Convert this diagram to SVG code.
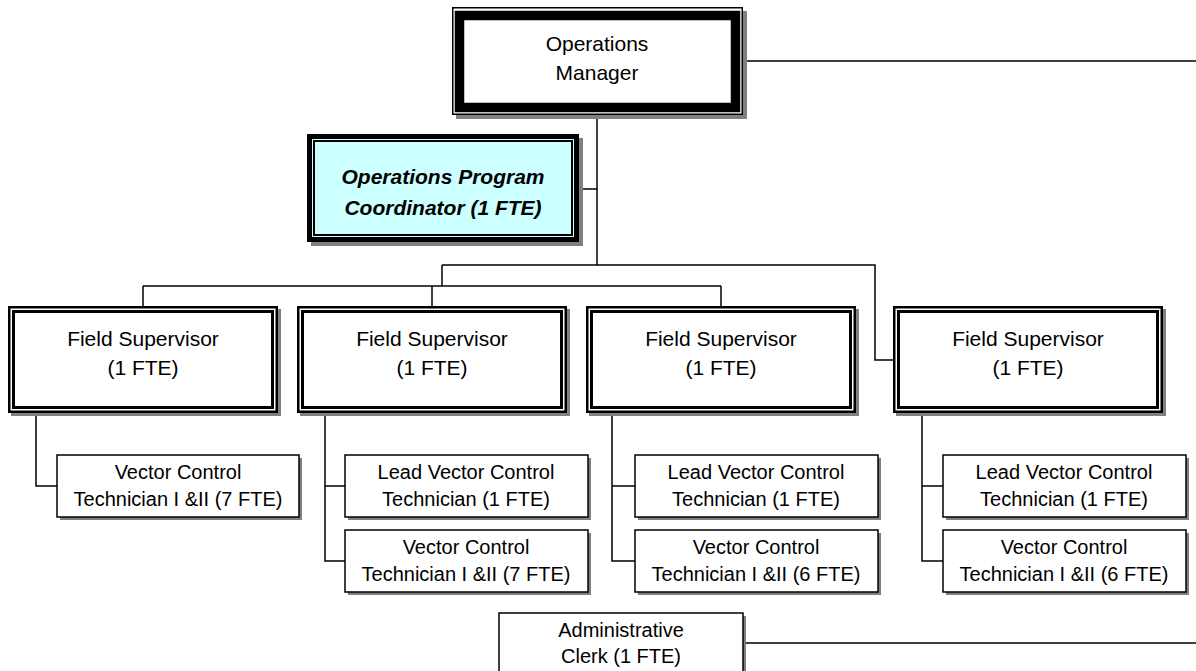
<svg xmlns="http://www.w3.org/2000/svg" width="1196" height="671" viewBox="0 0 1196 671">
<style>
text{font-family:"Liberation Sans",Arial,sans-serif;fill:#000;text-anchor:middle}
.t21{font-size:21px}
.t20{font-size:20px}
.bi{font-size:21px;font-weight:bold;font-style:italic}
.sh{fill:#808080}
.ln{fill:none;stroke:#000;stroke-width:1.5}
.sb{fill:#fff;stroke:#000;stroke-width:1.5}
.fo{fill:#fff;stroke:#000;stroke-width:2.5}
.fi{fill:none;stroke:#000;stroke-width:3}
</style>
<rect width="1196" height="671" fill="#fff"/>
<g id="connectors">
<path class="ln" d="M743 61H1196"/>
<path class="ln" d="M597 115V265"/>
<path class="ln" d="M579 189H597"/>
<path class="ln" d="M442 265H875V360H893"/>
<path class="ln" d="M442 265V286"/>
<path class="ln" d="M143 286H721"/>
<path class="ln" d="M143 286V306M432 286V306M721 286V306"/>
<path class="ln" d="M36 413V486H57"/>
<path class="ln" d="M325 413V561H345M325 486H345"/>
<path class="ln" d="M612 413V561H635M612 486H635"/>
<path class="ln" d="M922 413V561H943M922 486H943"/>
<path class="ln" d="M743 643H1196"/>
</g>
<g id="ops-manager">
<rect class="sh" x="456" y="11" width="291" height="108"/>
<rect x="452.75" y="7.75" width="289.5" height="106.5" fill="#fff" stroke="#000" stroke-width="1.5"/>
<rect x="459.5" y="15.5" width="276" height="92" fill="none" stroke="#000" stroke-width="9.5"/>
<text class="t21" x="597" y="51">Operations</text>
<text class="t21" x="597" y="80">Manager</text>
</g>
<g id="coordinator">
<rect class="sh" x="311" y="138" width="272" height="108"/>
<rect x="309.5" y="136.5" width="267" height="103" fill="#ccffff" stroke="#000" stroke-width="5"/>
<rect x="314" y="141" width="258" height="94" fill="none" stroke="#000" stroke-width="2"/>
<text class="bi" x="443" y="184">Operations Program</text>
<text class="bi" x="443" y="215">Coordinator (1 FTE)</text>
</g>
<g id="fs1">
<rect class="sh" x="11" y="309" width="270" height="107"/>
<rect class="fo" x="9.25" y="307.25" width="267.5" height="104.5"/>
<rect class="fi" x="13.5" y="311.5" width="259" height="96"/>
<text class="t21" x="143" y="346">Field Supervisor</text>
<text class="t21" x="143" y="375">(1 FTE)</text>
</g>
<g id="fs2">
<rect class="sh" x="300" y="309" width="270" height="107"/>
<rect class="fo" x="298.25" y="307.25" width="267.5" height="104.5"/>
<rect class="fi" x="302.5" y="311.5" width="259" height="96"/>
<text class="t21" x="432" y="346">Field Supervisor</text>
<text class="t21" x="432" y="375">(1 FTE)</text>
</g>
<g id="fs3">
<rect class="sh" x="589" y="309" width="270" height="107"/>
<rect class="fo" x="587.25" y="307.25" width="267.5" height="104.5"/>
<rect class="fi" x="591.5" y="311.5" width="259" height="96"/>
<text class="t21" x="721" y="346">Field Supervisor</text>
<text class="t21" x="721" y="375">(1 FTE)</text>
</g>
<g id="fs4">
<rect class="sh" x="896" y="309" width="270" height="107"/>
<rect class="fo" x="894.25" y="307.25" width="267.5" height="104.5"/>
<rect class="fi" x="898.5" y="311.5" width="259" height="96"/>
<text class="t21" x="1028" y="346">Field Supervisor</text>
<text class="t21" x="1028" y="375">(1 FTE)</text>
</g>
<g id="vct1">
<rect class="sh" x="60" y="458" width="242" height="62"/>
<rect class="sb" x="57" y="455" width="242" height="62"/>
<text class="t20" x="178" y="479">Vector Control</text>
<text class="t20" x="178" y="506">Technician I &amp;II (7 FTE)</text>
</g>
<g id="lead2">
<rect class="sh" x="348" y="458" width="243" height="62"/>
<rect class="sb" x="345" y="455" width="243" height="62"/>
<text class="t20" x="466" y="479">Lead Vector Control</text>
<text class="t20" x="466" y="506">Technician (1 FTE)</text>
</g>
<g id="vct2">
<rect class="sh" x="348" y="533" width="243" height="62"/>
<rect class="sb" x="345" y="530" width="243" height="62"/>
<text class="t20" x="466" y="554">Vector Control</text>
<text class="t20" x="466" y="581">Technician I &amp;II (7 FTE)</text>
</g>
<g id="lead3">
<rect class="sh" x="638" y="458" width="243" height="62"/>
<rect class="sb" x="635" y="455" width="243" height="62"/>
<text class="t20" x="756" y="479">Lead Vector Control</text>
<text class="t20" x="756" y="506">Technician (1 FTE)</text>
</g>
<g id="vct3">
<rect class="sh" x="638" y="533" width="243" height="62"/>
<rect class="sb" x="635" y="530" width="243" height="62"/>
<text class="t20" x="756" y="554">Vector Control</text>
<text class="t20" x="756" y="581">Technician I &amp;II (6 FTE)</text>
</g>
<g id="lead4">
<rect class="sh" x="946" y="458" width="243" height="62"/>
<rect class="sb" x="943" y="455" width="243" height="62"/>
<text class="t20" x="1064" y="479">Lead Vector Control</text>
<text class="t20" x="1064" y="506">Technician (1 FTE)</text>
</g>
<g id="vct4">
<rect class="sh" x="946" y="533" width="243" height="62"/>
<rect class="sb" x="943" y="530" width="243" height="62"/>
<text class="t20" x="1064" y="554">Vector Control</text>
<text class="t20" x="1064" y="581">Technician I &amp;II (6 FTE)</text>
</g>
<g id="admin-clerk">
<rect class="sh" x="502" y="616" width="244" height="70"/>
<rect class="sb" x="499" y="613" width="244" height="70"/>
<text class="t20" x="621" y="637">Administrative</text>
<text class="t20" x="621" y="663">Clerk (1 FTE)</text>
</g>
</svg>
